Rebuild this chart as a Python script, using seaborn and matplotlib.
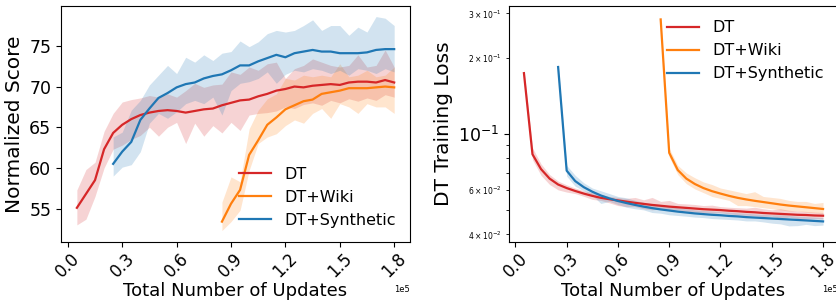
import numpy as np
import pandas as pd
import seaborn as sns
import matplotlib
matplotlib.use("Agg")
import matplotlib.pyplot as plt

# ---------------------------------------------------------------
# x grids (number of updates)
steps_dt = np.arange(5000, 180001, 5000)     # DT starts at 0.05e5
steps_syn = np.arange(25000, 180001, 5000)   # DT+Synthetic starts at 0.25e5
steps_wiki = np.arange(85000, 180001, 5000)  # DT+Wiki starts at 0.85e5

# ---------------------------------------------------------------
# Normalized score (left panel)
score_dt = [55.1, 56.8, 58.5, 62.3, 64.3, 65.3, 66.0, 66.5, 66.8, 67.0, 67.1, 67.0,
            66.8, 67.0, 67.2, 67.3, 67.7, 68.0, 68.3, 68.4, 68.8, 69.1, 69.5, 69.7,
            70.0, 69.9, 70.1, 70.2, 70.3, 70.2, 70.5, 70.6, 70.6, 70.5, 70.8, 70.5]
score_dt_lo = [53.0, 53.7, 56.5, 60.0, 62.3, 62.8, 63.5, 64.0, 65.0, 63.9, 65.0, 65.6,
               63.0, 65.5, 63.9, 65.2, 64.3, 65.6, 64.6, 66.5, 66.7, 66.8, 67.0, 67.5,
               67.3, 67.8, 68.0, 67.7, 68.3, 68.0, 68.5, 68.2, 68.6, 68.3, 69.0, 68.7]
score_dt_hi = [57.3, 59.8, 60.7, 64.5, 66.7, 68.1, 68.4, 68.6, 68.9, 68.7, 69.1, 68.7,
               69.5, 70.4, 69.9, 70.2, 70.3, 71.8, 71.5, 72.4, 72.0, 72.8, 73.0, 71.0,
               72.2, 72.6, 73.4, 73.0, 72.6, 72.4, 72.6, 73.9, 72.4, 72.6, 74.5, 72.4]

score_wiki = [53.4, 55.6, 57.3, 61.6, 63.4, 65.3, 66.2, 67.2, 67.7, 68.2, 68.4, 69.1,
              69.3, 69.5, 69.8, 69.8, 69.8, 69.9, 70.0, 69.9]
score_wiki_lo = [52.3, 53.4, 54.8, 59.7, 63.0, 63.8, 64.2, 65.2, 65.9, 65.5, 66.7, 67.3,
                 66.1, 67.9, 67.5, 66.7, 67.9, 67.5, 67.5, 66.7]
score_wiki_hi = [55.8, 58.9, 58.3, 64.8, 67.1, 68.5, 69.1, 71.0, 70.8, 71.4, 71.2, 71.4,
                 71.2, 72.8, 71.2, 71.4, 72.0, 71.2, 71.4, 72.4]

score_syn = [60.5, 62.0, 63.2, 65.9, 67.3, 68.6, 69.2, 69.9, 70.3, 70.5, 71.0, 71.3,
             71.5, 72.0, 72.6, 72.6, 73.1, 73.5, 73.9, 73.6, 74.1, 74.3, 74.5, 74.3,
             74.3, 74.1, 74.1, 74.1, 74.2, 74.5, 74.6, 74.6]
score_syn_lo = [59.0, 60.1, 60.4, 62.0, 65.5, 66.7, 66.1, 66.9, 67.9, 68.3, 67.9, 68.7,
                66.5, 69.5, 70.4, 70.6, 71.0, 71.8, 70.4, 71.5, 72.0, 71.8, 72.2, 72.0,
                71.6, 72.0, 71.4, 72.2, 72.0, 71.6, 72.2, 71.8]
score_syn_hi = [63.8, 64.4, 67.1, 68.3, 70.2, 71.4, 72.6, 71.6, 73.6, 73.0, 73.9, 73.2,
                74.1, 74.3, 75.6, 74.9, 75.5, 76.5, 76.9, 76.7, 76.9, 77.5, 78.2, 76.9,
                77.5, 77.5, 76.3, 77.3, 76.7, 78.6, 78.4, 77.5]

# ---------------------------------------------------------------
# DT training loss (right panel)
loss_dt = [0.174, 0.083, 0.0725, 0.0665, 0.0630, 0.0610, 0.0594, 0.0580, 0.0568, 0.0558,
           0.0551, 0.0545, 0.0539, 0.0533, 0.0528, 0.0523, 0.0519, 0.0515, 0.0512, 0.0509,
           0.0506, 0.0503, 0.0501, 0.0499, 0.0496, 0.0494, 0.0491, 0.0489, 0.0486, 0.0484,
           0.0482, 0.0480, 0.0478, 0.0477, 0.0475, 0.0474]
loss_dt_lo = [0.168, 0.079, 0.0685, 0.0630, 0.0600, 0.0588, 0.0580, 0.0566, 0.0550, 0.0545,
              0.0533, 0.0520, 0.0515, 0.0515, 0.0505, 0.0500, 0.0505, 0.0498, 0.0500, 0.0494,
              0.0490, 0.0488, 0.0485, 0.0487, 0.0482, 0.0478, 0.0476, 0.0474, 0.0470, 0.0472,
              0.0462, 0.0468, 0.0462, 0.0460, 0.0462, 0.0460]
loss_dt_hi = [0.180, 0.088, 0.0760, 0.0690, 0.0650, 0.0628, 0.0610, 0.0595, 0.0585, 0.0575,
              0.0565, 0.0560, 0.0555, 0.0560, 0.0548, 0.0560, 0.0540, 0.0545, 0.0530, 0.0528,
              0.0525, 0.0520, 0.0522, 0.0515, 0.0512, 0.0510, 0.0508, 0.0512, 0.0505, 0.0500,
              0.0505, 0.0498, 0.0495, 0.0493, 0.0490, 0.0488]

loss_wiki = [0.284, 0.0841, 0.0719, 0.0665, 0.0633, 0.0610, 0.0593, 0.0580, 0.0568, 0.0558,
             0.0550, 0.0543, 0.0537, 0.0531, 0.0525, 0.0520, 0.0516, 0.0512, 0.0508, 0.0504]
loss_wiki_lo = [0.280, 0.0810, 0.0690, 0.0635, 0.0605, 0.0585, 0.0565, 0.0555, 0.0545, 0.0520,
                0.0520, 0.0515, 0.0510, 0.0505, 0.0500, 0.0495, 0.0495, 0.0490, 0.0487, 0.0485]
loss_wiki_hi = [0.290, 0.0875, 0.0750, 0.0700, 0.0670, 0.0645, 0.0630, 0.0610, 0.0600, 0.0590,
                0.0580, 0.0590, 0.0565, 0.0560, 0.0555, 0.0545, 0.0540, 0.0540, 0.0530, 0.0535]

loss_syn = [0.184, 0.0715, 0.0650, 0.0615, 0.0590, 0.0570, 0.0555, 0.0542, 0.0532, 0.0523,
            0.0515, 0.0508, 0.0502, 0.0497, 0.0492, 0.0488, 0.0484, 0.0481, 0.0478, 0.0476,
            0.0473, 0.0471, 0.0468, 0.0466, 0.0464, 0.0462, 0.0460, 0.0458, 0.0456, 0.0454,
            0.0452, 0.0450]
loss_syn_lo = [0.178, 0.0680, 0.0620, 0.0595, 0.0570, 0.0530, 0.0540, 0.0525, 0.0512, 0.0505,
               0.0500, 0.0488, 0.0485, 0.0478, 0.0475, 0.0472, 0.0468, 0.0466, 0.0462, 0.0460,
               0.0458, 0.0456, 0.0452, 0.0452, 0.0448, 0.0443, 0.0440, 0.0432, 0.0433, 0.0438,
               0.0433, 0.0435]
loss_syn_hi = [0.190, 0.0750, 0.0685, 0.0640, 0.0610, 0.0595, 0.0580, 0.0565, 0.0558, 0.0545,
               0.0535, 0.0528, 0.0525, 0.0515, 0.0510, 0.0505, 0.0500, 0.0497, 0.0495, 0.0492,
               0.0490, 0.0487, 0.0485, 0.0482, 0.0480, 0.0478, 0.0478, 0.0475, 0.0472, 0.0470,
               0.0468, 0.0466]

methods = ["DT", "DT+Wiki", "DT+Synthetic"]
colors = {"DT": "#d62728", "DT+Wiki": "#ff7f0e", "DT+Synthetic": "#1f77b4"}
x_ticks = [0, 30000, 60000, 90000, 120000, 150000, 180000]

# ---------------------------------------------------------------
# Build long tables for seaborn
def make_frame(xs, mean, lo, hi, name):
    return pd.DataFrame({"step": xs, "mean": mean, "lo": lo, "hi": hi, "method": name})

score_df = pd.concat([
    make_frame(steps_dt, score_dt, score_dt_lo, score_dt_hi, "DT"),
    make_frame(steps_wiki, score_wiki, score_wiki_lo, score_wiki_hi, "DT+Wiki"),
    make_frame(steps_syn, score_syn, score_syn_lo, score_syn_hi, "DT+Synthetic"),
])
loss_df = pd.concat([
    make_frame(steps_dt, loss_dt, loss_dt_lo, loss_dt_hi, "DT"),
    make_frame(steps_wiki, loss_wiki, loss_wiki_lo, loss_wiki_hi, "DT+Wiki"),
    make_frame(steps_syn, loss_syn, loss_syn_lo, loss_syn_hi, "DT+Synthetic"),
])

# ---------------------------------------------------------------
fig = plt.figure(figsize=(8.37, 3.06), dpi=100)
ax1 = fig.add_axes([0.0729, 0.2092, 0.4170, 0.7712])
ax2 = fig.add_axes([0.6081, 0.2092, 0.3931, 0.7712])


def draw(ax, df):
    for m in methods:
        sub = df[df["method"] == m]
        ax.fill_between(sub["step"], sub["lo"], sub["hi"], color=colors[m],
                        alpha=0.2, linewidth=0)
        sns.lineplot(x=sub["step"], y=sub["mean"], color=colors[m], label=m,
                     linewidth=1.6, ax=ax)
    ax.set_xticks(x_ticks)
    ax.ticklabel_format(axis="x", style="sci", scilimits=(0, 0))
    ax.xaxis.get_offset_text().set_fontsize(6)
    ax.tick_params(axis="x", rotation=45, labelsize=12, pad=2)
    ax.tick_params(axis="y", labelsize=12.5)
    ax.set_xlabel("Total Number of Updates", fontsize=13, labelpad=1)


# Left: normalized score
draw(ax1, score_df)
ax1.set_ylim(50.9, 79.9)
ax1.set_yticks([55, 60, 65, 70, 75])
ax1.set_ylabel("Normalized Score", fontsize=14.5)
ax1.legend(loc="lower right", frameon=False, fontsize=11.5)

# Right: training loss (log scale)
draw(ax2, loss_df)
ax2.set_yscale("log")
ax2.set_ylim(0.0373, 0.321)
ax2.tick_params(axis="y", which="minor", labelsize=5.5)
ax2.set_ylabel("DT Training Loss", fontsize=14.5)
ax2.legend(loc="upper right", frameon=False, fontsize=11.5)

fig.savefig("out.png", dpi=100)
